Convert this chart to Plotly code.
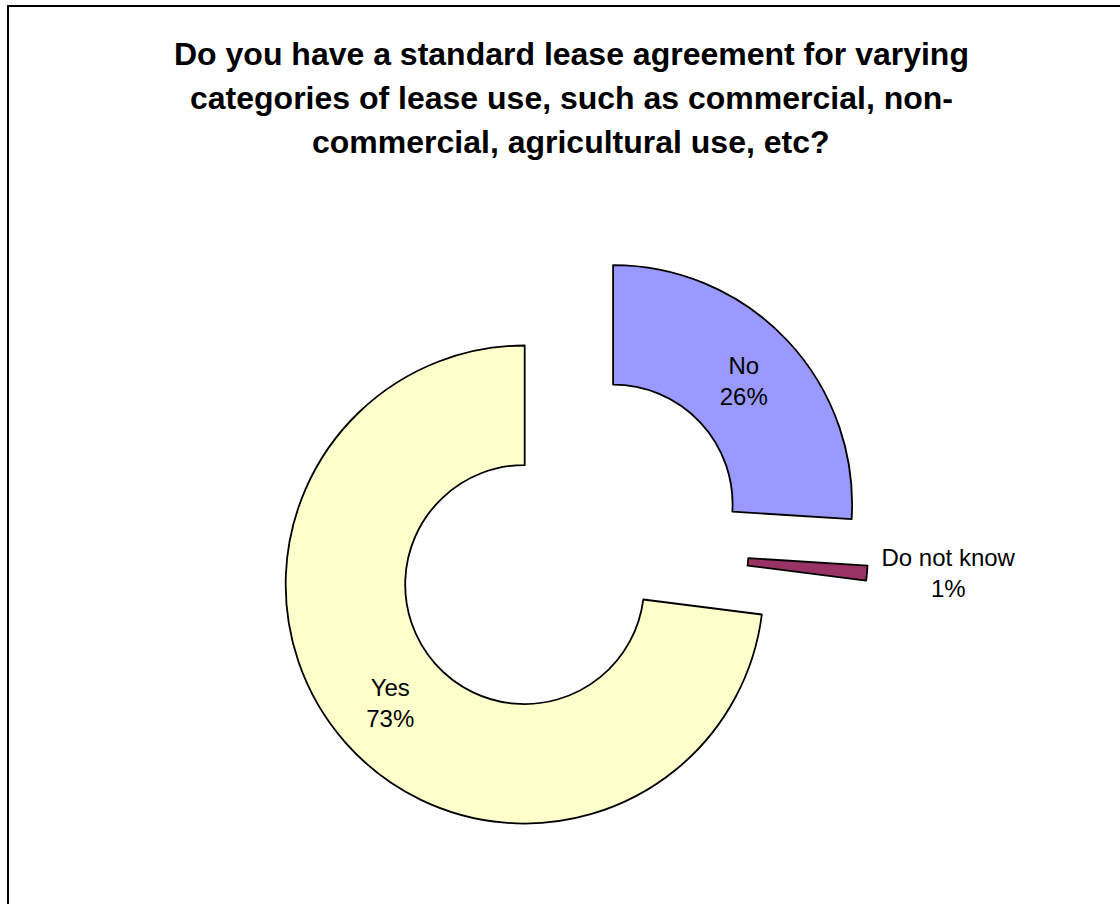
import plotly.graph_objects as go

# Survey responses (percent of respondents), clockwise from 12 o'clock
labels = ["No", "Do not know", "Yes"]
values = [26, 1, 73]
colors = ["#9999FF", "#993366", "#FFFFCC"]
text_positions = ["inside", "outside", "inside"]

title_lines = [
    "Do you have a standard lease agreement for varying",
    "categories of lease use, such as commercial, non-",
    "commercial, agricultural use, etc?",
]

W, H = 1120, 904
FONT = "Liberation Sans, Arial, sans-serif"

fig = go.Figure()
fig.add_trace(go.Pie(
    labels=labels,
    values=values,
    sort=False,
    direction="clockwise",
    rotation=0,
    hole=0.5,
    pull=[0.25, 0.25, 0.25],
    marker=dict(colors=colors, line=dict(color="black", width=1.8)),
    textinfo="label+percent",
    textposition=text_positions,
    insidetextorientation="horizontal",
    textfont=dict(family=FONT, size=24, color="black"),
    automargin=False,
    showlegend=False,
    hoverinfo="label+percent",
    domain=dict(x=[0.2413, 0.7757], y=[0.0666, 0.7276]),
))

# Three-line bold title, each line placed separately for Excel-like spacing
title_y_px = [54, 98, 142]
for line, ypx in zip(title_lines, title_y_px):
    fig.add_annotation(
        text=f"<b>{line}</b>",
        x=571 / W, y=1 - ypx / H,
        xref="paper", yref="paper",
        xanchor="center", yanchor="middle",
        showarrow=False,
        font=dict(family=FONT, size=32, color="black"),
    )

# Chart-area frame (right and bottom edges fall outside the view)
fig.add_shape(
    type="rect", xref="paper", yref="paper",
    x0=8 / W, x1=1.05, y0=-0.05, y1=1 - 6 / H,
    line=dict(color="black", width=2), fillcolor="rgba(0,0,0,0)",
)

fig.update_layout(
    width=W, height=H,
    margin=dict(l=0, r=0, t=0, b=0, autoexpand=False),
    paper_bgcolor="white",
    plot_bgcolor="white",
    font=dict(family=FONT, color="black"),
)

fig.write_html("out.html")
